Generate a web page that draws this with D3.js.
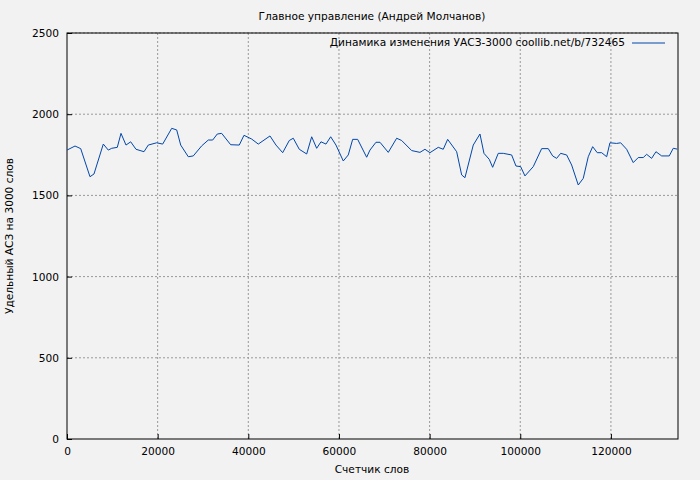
<!DOCTYPE html>
<html><head><meta charset="utf-8">
<script src="https://cdn.jsdelivr.net/npm/d3@7"></script>
<style>body{margin:0;background:#f2f2f2}svg{font-family:"DejaVu Sans";font-size:10.6px}</style>
</head><body><div id="main"></div>
<script>
const words = [0,1765,3022,5074,5956,8008,9111,9861,11096,11913,13016,14052,15221,16986,17935,19788,21111,23097,24200,25082,26759,27861,29714,31171,32141,33156,34127,36112,38009,39046,40744,42200,44782,46105,47583,49039,49922,51246,52878,53981,55084,56032,57135,58172,59341,60952,62054,63025,64128,66113,66841,68165,69048,70879,72732,73835,76041,77872,78975,80078,81909,83012,83982,85968,87071,87799,89630,91108,91990,93159,93909,95144,96248,98100,99049,100086,101034,102865,104718,106174,107145,108027,108910,110234,111337,112796,113899,115002,115973,116988,117958,119061,119786,121264,122146,123470,124926,126029,127132,127882,128985,129934,131191,132868,133750,134632];
const asz = [1779,1804,1788,1615,1632,1816,1779,1790,1796,1882,1810,1830,1784,1769,1810,1824,1816,1913,1903,1810,1738,1743,1805,1841,1841,1878,1882,1812,1810,1870,1847,1816,1866,1810,1763,1838,1852,1784,1755,1861,1790,1830,1816,1861,1810,1712,1749,1845,1845,1735,1779,1827,1827,1765,1852,1838,1776,1765,1784,1763,1796,1784,1845,1769,1626,1609,1810,1878,1759,1722,1673,1759,1759,1749,1681,1677,1620,1677,1788,1788,1743,1728,1759,1749,1687,1564,1605,1738,1800,1763,1763,1738,1824,1820,1824,1784,1702,1733,1733,1753,1728,1769,1743,1743,1790,1785];
const xTicks = [0,20000,40000,60000,80000,100000,120000];
const yTicks = [0,500,1000,1500,2000,2500];

const W = 700, H = 480, m = {left:67, right:22, top:33, bottom:41};
const svg = d3.select("#main").append("svg").attr("width", W).attr("height", H);
svg.append("rect").attr("width", W).attr("height", H).attr("fill", "#f2f2f2");
const x = d3.scaleLinear().domain([0,134800]).range([m.left, W-m.right]);
const y = d3.scaleLinear().domain([0,2500]).range([H-m.bottom, m.top]);

// сетка
svg.append("g").selectAll("line").data(xTicks.slice(1)).join("line")
  .attr("x1", d => x(d)).attr("x2", d => x(d)).attr("y1", m.top).attr("y2", H-m.bottom)
  .attr("stroke", "#999").attr("stroke-dasharray", "2,2");
svg.append("g").selectAll("line").data(yTicks.slice(1)).join("line")
  .attr("x1", m.left).attr("x2", W-m.right).attr("y1", d => y(d)).attr("y2", d => y(d))
  .attr("stroke", "#999").attr("stroke-dasharray", "2,2");

svg.append("rect").attr("x", m.left).attr("y", m.top).attr("width", W-m.left-m.right)
  .attr("height", H-m.top-m.bottom).attr("fill", "none").attr("stroke", "#000");

const xa = svg.append("g").attr("transform", `translate(0,${H-m.bottom})`)
  .call(d3.axisBottom(x).tickValues(xTicks).tickSize(-5).tickPadding(8).tickFormat(d3.format("d")));
const ya = svg.append("g").attr("transform", `translate(${m.left},0)`)
  .call(d3.axisLeft(y).tickValues(yTicks).tickSize(-5).tickPadding(8).tickFormat(d3.format("d")));
[xa, ya].forEach(a => { a.select(".domain").remove(); a.attr("font-family", "DejaVu Sans").attr("font-size", 10.6); a.selectAll("text").attr("fill", "#000"); });

svg.append("path").datum(words.map((w, i) => [w, asz[i]]))
  .attr("d", d3.line().x(d => x(d[0])).y(d => y(d[1])))
  .attr("fill", "none").attr("stroke", "#0047ab").attr("stroke-width", 1);

svg.append("text").attr("x", 372).attr("y", 20).attr("text-anchor", "middle").text("Главное управление (Андрей Молчанов)");
svg.append("text").attr("x", 372).attr("y", 473).attr("text-anchor", "middle").text("Счетчик слов");
svg.append("text").attr("transform", "rotate(-90)").attr("x", -236).attr("y", 13).attr("text-anchor", "middle").text("Удельный АСЗ на 3000 слов");
svg.append("text").attr("x", 625).attr("y", 46).attr("text-anchor", "end").text("Динамика изменения УАСЗ-3000 coollib.net/b/732465");
svg.append("line").attr("x1", 632).attr("x2", 665).attr("y1", 43).attr("y2", 43).attr("stroke", "#0047ab");
</script></body></html>
